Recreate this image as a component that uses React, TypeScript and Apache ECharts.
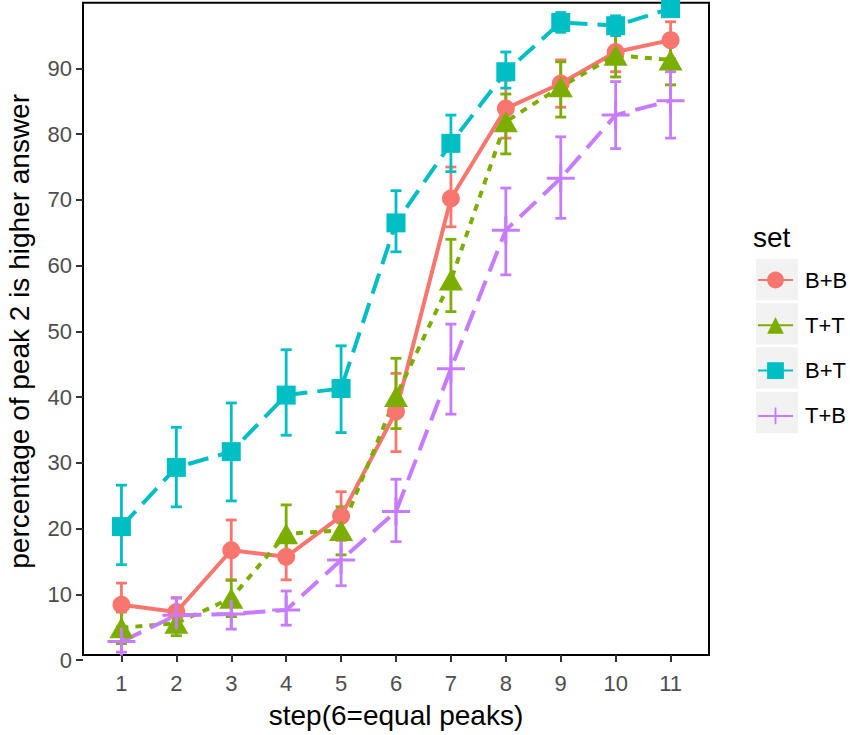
import React, { useEffect, useRef } from 'react';
import * as echarts from 'echarts';

const steps = [1, 2, 3, 4, 5, 6, 7, 8, 9, 10, 11];
const setNames = ['B+B', 'T+T', 'B+T', 'T+B'];
const setColors = ['#F8766D', '#7CAE00', '#00BFC4', '#C77CFF'];

// B+B
const bbMean = [8.4, 7.3, 16.7, 15.7, 21.9, 37.8, 70.2, 83.9, 87.7, 92.5, 94.3];
const bbLow = [5.1, 5.1, 12.1, 12.2, 18.2, 31.7, 65.9, 79.4, 84.1, 89.5, 91.5];
const bbHigh = [11.7, 9.5, 21.3, 19.2, 25.6, 43.6, 75.0, 88.2, 91.3, 95.5, 97.1];
// T+T
const ttMean = [4.9, 5.6, 9.4, 19.2, 19.7, 40.1, 57.8, 81.9, 87.2, 92.0, 91.3];
const ttLow = [2.5, 3.7, 6.6, 14.8, 16.0, 35.2, 53.0, 77.0, 82.6, 88.7, 87.5];
const ttHigh = [7.3, 7.5, 12.2, 23.6, 23.3, 45.9, 64.0, 86.1, 91.0, 95.3, 95.1];
// B+T
const btMean = [20.3, 29.3, 31.7, 40.3, 41.3, 66.5, 78.6, 89.5, 97.0, 96.5, 99.1];
const btLow = [14.5, 23.3, 24.2, 34.2, 34.6, 62.1, 74.3, 87.0, 95.5, 95.0, 98.2];
const btHigh = [26.6, 35.4, 39.1, 47.2, 47.8, 71.4, 82.9, 92.5, 98.5, 98.0, 100];
// T+B
const tbMean = [2.8, 6.8, 7.0, 7.6, 15.2, 22.6, 44.3, 65.4, 73.3, 82.9, 85.1];
const tbLow = [1.2, 4.3, 4.7, 5.3, 11.3, 18.0, 37.4, 58.6, 67.2, 77.8, 79.4];
const tbHigh = [4.6, 9.4, 9.4, 10.5, 18.4, 27.5, 51.1, 71.8, 79.6, 88.0, 89.5];

const yTicks = [0, 10, 20, 30, 40, 50, 60, 70, 80, 90];

const FONT = '"Liberation Sans", Arial, sans-serif';
const PLUS = 'path://M12.5,0h3v12.5h12.5v3h-12.5v12.5h-3v-12.5h-12.5v-3h12.5z';

const means = [bbMean, ttMean, btMean, tbMean];
const lows = [bbLow, ttLow, btLow, tbLow];
const highs = [bbHigh, ttHigh, btHigh, tbHigh];
const symbols = ['circle', 'triangle', 'rect', PLUS];
const symbolSizes: any[] = [18, [24, 21], 19, 28];
const dashes: any[] = ['solid', [7, 7], [21, 10], [22, 10]];

const LEGEND_TOP = 269;
const LEGEND_ROW = 44.3;

export default function App() {
  const ref = useRef<HTMLDivElement>(null);
  useEffect(() => {
    if (!ref.current) return;
    const chart = echarts.init(ref.current, undefined, { renderer: 'svg' });

    const errSeries = setNames.map((name, k) => ({
      type: 'custom',
      name: name + ' err',
      z: 2,
      silent: true,
      data: steps.map((s, i) => [s, lows[k][i], highs[k][i]]),
      encode: { x: 0, y: [1, 2] },
      renderItem: (params: any, api: any) => {
        const x = api.value(0);
        const lo = api.coord([x, api.value(1)]);
        const hi = api.coord([x, api.value(2)]);
        const hw = 5.5;
        const st = { stroke: setColors[k], lineWidth: 2.8 };
        return {
          type: 'group',
          children: [
            { type: 'line', shape: { x1: lo[0], y1: lo[1], x2: hi[0], y2: hi[1] }, style: st },
            { type: 'line', shape: { x1: lo[0] - hw, y1: lo[1], x2: lo[0] + hw, y2: lo[1] }, style: st },
            { type: 'line', shape: { x1: hi[0] - hw, y1: hi[1], x2: hi[0] + hw, y2: hi[1] }, style: st },
          ],
        };
      },
    }));

    const lineSeries = setNames.map((name, k) => ({
      type: 'line',
      name,
      z: 3,
      data: steps.map((s, i) => [s, means[k][i]]),
      symbol: symbols[k],
      symbolSize: symbolSizes[k],
      showSymbol: true,
      itemStyle: { color: setColors[k] },
      lineStyle: { color: setColors[k], width: 4, type: dashes[k] },
    }));

    const legendBoxes = setNames.map((_, k) => ({
      type: 'rect',
      shape: { x: 756, y: LEGEND_TOP + 10.5 + k * LEGEND_ROW - 20.75, width: 42, height: 41.5 },
      style: { fill: '#F2F2F2' },
      z: 0,
    }));

    chart.setOption({
      animation: false,
      textStyle: { fontFamily: FONT },
      title: {
        text: 'set',
        left: 753,
        top: 223,
        padding: 0,
        textStyle: { fontSize: 28, fontWeight: 'normal', color: '#000', fontFamily: FONT },
      },
      legend: {
        orient: 'vertical',
        left: 757,
        top: LEGEND_TOP,
        padding: 0,
        itemWidth: 35,
        itemHeight: 21,
        itemGap: LEGEND_ROW - 21,
        data: setNames,
        selectedMode: false,
        lineStyle: { type: 'solid' },
        textStyle: { fontSize: 22, color: '#000', fontFamily: FONT, padding: [0, 0, 0, 7], lineHeight: 21 },
      },
      grid: { left: 83, top: 2.7, width: 626, height: 657.3, outerBoundsMode: 'none', containLabel: false },
      xAxis: {
        type: 'value',
        min: 0.3,
        max: 11.7,
        offset: -5,
        name: 'step(6=equal peaks)',
        nameLocation: 'middle',
        nameGap: 46,
        nameTextStyle: { fontSize: 28, color: '#000', fontFamily: FONT },
        axisLine: { show: false },
        axisTick: { show: true, length: 7, customValues: steps, lineStyle: { color: '#333', width: 2 } },
        axisLabel: { customValues: steps, fontSize: 22, color: '#4D4D4D', margin: 17, fontFamily: FONT },
        splitLine: { show: false },
      },
      yAxis: {
        type: 'value',
        min: 0,
        max: 100,
        name: 'percentage of peak 2 is higher answer',
        nameLocation: 'middle',
        nameGap: 50,
        nameTextStyle: { fontSize: 28, color: '#000', fontFamily: FONT },
        axisLine: { show: false },
        axisTick: { show: true, length: 7, customValues: yTicks, lineStyle: { color: '#333', width: 2 } },
        axisLabel: { customValues: yTicks, fontSize: 22, color: '#4D4D4D', margin: 11, fontFamily: FONT },
        splitLine: { show: false },
      },
      graphic: [
        {
          type: 'rect',
          shape: { x: 83, y: 2.7, width: 626, height: 652.3 },
          style: { fill: 'none', stroke: '#000', lineWidth: 2 },
          z: 0,
        },
        ...legendBoxes,
      ],
      series: [...errSeries, ...lineSeries],
    });
    return () => chart.dispose();
  }, []);
  return <div ref={ref} style={{ position: 'absolute', left: 0, top: 0, width: 850, height: 735 }} />;
}
